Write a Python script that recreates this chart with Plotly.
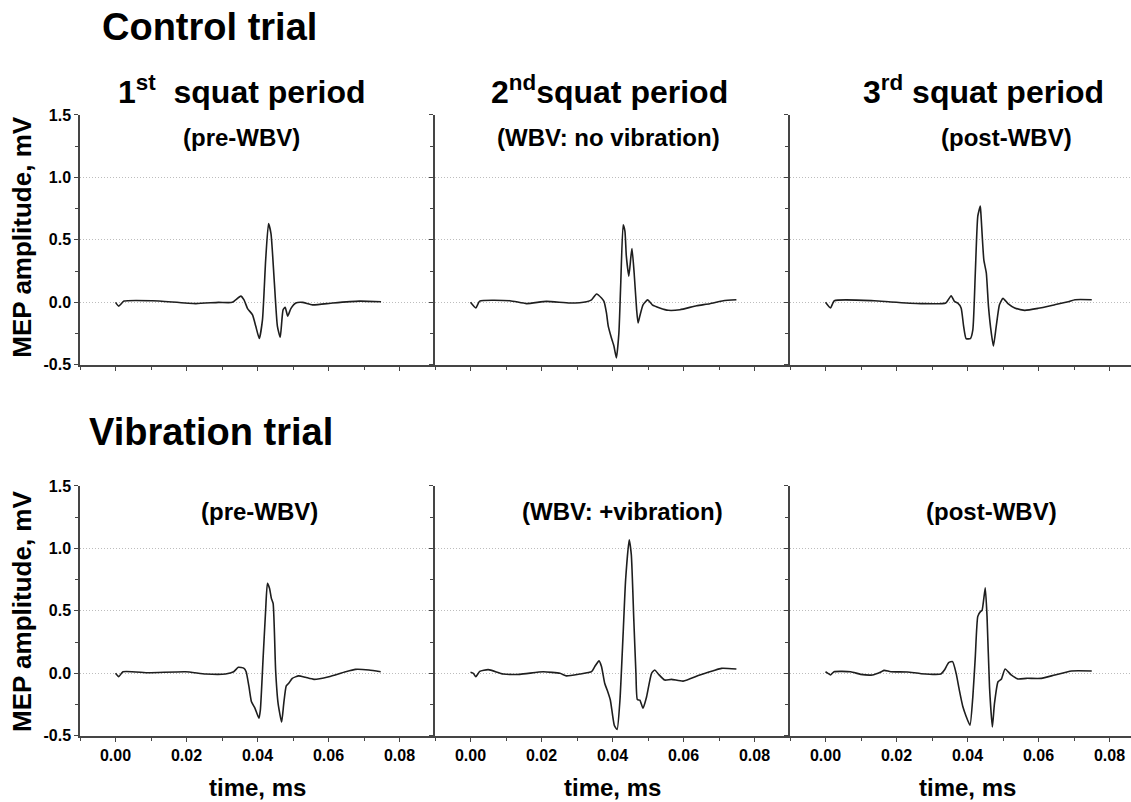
import plotly.graph_objects as go

W, H = 1131, 802

# ---------------- data (time in ms-axis units, amplitude in mV) ----------------
ctrl_pre_t = [0.0, 0.0009, 0.0024, 0.0104, 0.0226, 0.0290, 0.0329, 0.0353, 0.0362, 0.0372,
              0.0386, 0.0395, 0.0405, 0.0414, 0.0423, 0.0431, 0.0438, 0.0447, 0.0456, 0.0464,
              0.0472, 0.0478, 0.0485, 0.0494, 0.0508, 0.0527, 0.0555, 0.0612, 0.0687, 0.0748]
ctrl_pre_v = [0.0, -0.03, 0.01, 0.013, -0.01, 0.0, 0.0, 0.05, 0.02, -0.05,
              -0.10, -0.19, -0.29, -0.14, 0.34, 0.63, 0.55, 0.18, -0.19, -0.28,
              -0.06, -0.04, -0.11, -0.05, -0.005, 0.0, -0.02, -0.005, 0.01, 0.005]

ctrl_wbv_t = [0.0, 0.0015, 0.0026, 0.0111, 0.0158, 0.0214, 0.0280, 0.0327, 0.0341, 0.0355,
              0.0369, 0.0376, 0.0383, 0.0388, 0.0397, 0.0404, 0.0411, 0.0418, 0.0423, 0.0430,
              0.0435, 0.0439, 0.0446, 0.0452, 0.0455, 0.0461, 0.0468, 0.0472, 0.0477, 0.0486,
              0.0499, 0.0512, 0.0533, 0.0557, 0.0590, 0.0637, 0.0674, 0.0712, 0.0749]
ctrl_wbv_v = [0.0, -0.045, 0.01, 0.013, -0.01, 0.008, -0.005, 0.005, 0.02, 0.067,
              0.035, 0.008, -0.085, -0.19, -0.285, -0.35, -0.445, -0.245, 0.13, 0.62,
              0.57, 0.37, 0.21, 0.37, 0.43, 0.235, -0.06, -0.165, -0.11, -0.02,
              0.02, -0.02, -0.045, -0.064, -0.059, -0.027, -0.011, 0.013, 0.021]

ctrl_post_t = [0.0, 0.0014, 0.0025, 0.0137, 0.0184, 0.0269, 0.0339, 0.0354, 0.0363, 0.0372,
               0.0382, 0.0389, 0.0396, 0.0408, 0.0415, 0.0422, 0.0429, 0.0436, 0.0438, 0.0446,
               0.0453, 0.0459, 0.0467, 0.0473, 0.0481, 0.0490, 0.0500, 0.0514, 0.0533, 0.0561,
               0.0599, 0.0646, 0.0684, 0.0703, 0.0750]
ctrl_post_v = [0.0, -0.045, 0.013, 0.013, 0.003, -0.01, -0.005, 0.053, 0.008, -0.005,
               -0.045, -0.19, -0.29, -0.29, -0.22, 0.235, 0.69, 0.77, 0.70, 0.34,
               0.235, -0.03, -0.245, -0.35, -0.19, -0.02, 0.032, -0.01, -0.045, -0.064,
               -0.048, -0.019, 0.005, 0.021, 0.021]

vib_pre_t = [0.0, 0.0009, 0.0021, 0.0094, 0.0197, 0.0254, 0.0310, 0.0333, 0.0346, 0.0362,
             0.0368, 0.0376, 0.0383, 0.0393, 0.0404, 0.0408, 0.0416, 0.0423, 0.0428, 0.0434,
             0.0439, 0.0444, 0.0451, 0.0458, 0.0468, 0.0474, 0.0481, 0.0488, 0.0498, 0.0516,
             0.0535, 0.0559, 0.0601, 0.0648, 0.0676, 0.0714, 0.0747]
vib_pre_v = [0.0, -0.027, 0.013, 0.005, 0.013, -0.005, -0.005, 0.013, 0.048, 0.04,
             0.013, -0.107, -0.228, -0.28, -0.36, -0.295, 0.134, 0.51, 0.72, 0.68,
             0.60, 0.56, 0.027, -0.24, -0.39, -0.24, -0.10, -0.08, -0.04, -0.02,
             -0.032, -0.048, -0.027, 0.013, 0.032, 0.027, 0.013]

vib_wbv_t = [0.0, 0.0008, 0.0015, 0.0026, 0.0050, 0.0092, 0.0139, 0.0205, 0.0252, 0.0270,
             0.0308, 0.0341, 0.0350, 0.0362, 0.0369, 0.0378, 0.0385, 0.0394, 0.0405, 0.0413,
             0.0421, 0.0430, 0.0437, 0.0447, 0.0453, 0.0460, 0.0466, 0.0470, 0.0477, 0.0486,
             0.0496, 0.0510, 0.0519, 0.0529, 0.0547, 0.0566, 0.0599, 0.0646, 0.0684, 0.0707,
             0.0749]
vib_wbv_v = [0.008, 0.0, -0.027, 0.016, 0.03, -0.005, -0.008, 0.013, 0.0, -0.02,
             -0.005, 0.013, 0.054, 0.10, 0.054, -0.08, -0.134, -0.215, -0.415, -0.45,
             -0.215, 0.32, 0.75, 1.07, 0.95, 0.43, 0.0, -0.21, -0.215, -0.28,
             -0.188, 0.0, 0.027, -0.005, -0.054, -0.048, -0.062, -0.013, 0.021, 0.04,
             0.035]

vib_post_t = [0.0, 0.0007, 0.0014, 0.0024, 0.0071, 0.0099, 0.0132, 0.0156, 0.0165, 0.0184,
              0.0231, 0.0269, 0.0325, 0.0335, 0.0347, 0.0358, 0.0368, 0.0377, 0.0387, 0.0396,
              0.0407, 0.0415, 0.0422, 0.0429, 0.0437, 0.0441, 0.0450, 0.0455, 0.0462, 0.0470,
              0.0476, 0.0486, 0.0495, 0.0506, 0.0523, 0.0542, 0.0566, 0.0608, 0.0646, 0.0693,
              0.0750]
vib_post_v = [0.013, 0.0, -0.013, 0.013, 0.013, -0.008, -0.013, 0.011, 0.024, 0.013,
              0.011, -0.003, -0.005, 0.027, 0.086, 0.094, 0.0, -0.134, -0.268, -0.343,
              -0.416, -0.188, 0.134, 0.456, 0.496, 0.504, 0.684, 0.456, -0.107, -0.43,
              -0.241, -0.067, -0.048, 0.035, -0.013, -0.045, -0.040, -0.040, -0.013, 0.019,
              0.019]

row_titles = ["Control trial", "Vibration trial"]
period_titles = ["1<sup>st</sup>  squat period", "2<sup>nd</sup>squat period", "3<sup>rd</sup> squat period"]
sub_titles = [["(pre-WBV)", "(WBV: no vibration)", "(post-WBV)"],
              ["(pre-WBV)", "(WBV: +vibration)", "(post-WBV)"]]
y_title = "MEP amplitude, mV"
x_title = "time, ms"
x_ticks = [0.0, 0.02, 0.04, 0.06, 0.08]
x_ticktext = ["0.00", "0.02", "0.04", "0.06", "0.08"]
y_ticks = [-0.5, 0.0, 0.5, 1.0, 1.5]
y_ticktext = ["-0.5", "0.0", "0.5", "1.0", "1.5"]

series = [[(ctrl_pre_t, ctrl_pre_v), (ctrl_wbv_t, ctrl_wbv_v), (ctrl_post_t, ctrl_post_v)],
          [(vib_pre_t, vib_pre_v), (vib_wbv_t, vib_wbv_v), (vib_post_t, vib_post_v)]]

# ---------------- layout helpers ----------------
FONT = "Liberation Sans, Arial, sans-serif"
AX = "#454545"
LINE = "#1e1e1e"
# the plot area ends up slightly inset vertically; map target pixels to paper fractions
VS, VO = 0.978, 8.5


def fx(px):
    return px / W


def fy(py):
    return 1 - ((py - VO) / VS) / H


col_px = [(80, 435), (435, 790), (790, 1131)]
row_px = [(115, 365), (485.7, 735.7)]
x_unit = 0.1 / 355.0  # data units per pixel

fig = go.Figure()
layout = dict(
    width=W, height=H, margin=dict(l=0, r=0, t=0, b=0),
    paper_bgcolor="white", plot_bgcolor="white", showlegend=False,
    font=dict(family=FONT, color="black"),
)
annotations = []


def bold(size):
    return dict(family=FONT, size=size, color="black", weight="bold")


n = 0
for r in range(2):
    for c in range(3):
        n += 1
        xa = "xaxis" if n == 1 else f"xaxis{n}"
        ya = "yaxis" if n == 1 else f"yaxis{n}"
        xr = "x" if n == 1 else f"x{n}"
        yr = "y" if n == 1 else f"y{n}"
        t, v = series[r][c]
        fig.add_trace(go.Scatter(x=t, y=v, mode="lines", xaxis=xr, yaxis=yr,
                                 line=dict(color=LINE, width=1.6, shape="spline", smoothing=0.5),
                                 hoverinfo="skip"))
        x0, x1 = col_px[c]
        y0, y1 = row_px[r]
        layout[xa] = dict(
            domain=[fx(x0), fx(x1)], anchor=yr,
            range=[-0.01, -0.01 + (x1 - x0) * x_unit],
            showline=True, linecolor=AX, linewidth=1.5,
            showgrid=False, zeroline=False,
            tickmode="array", tickvals=x_ticks, ticktext=x_ticktext,
            ticks="outside", ticklen=4, tickwidth=1.2, tickcolor=AX,
            minor=dict(ticks="outside", ticklen=3, tickwidth=1, tickcolor=AX,
                       tickmode="linear", tick0=0.0, dtick=0.01),
            showticklabels=(r == 1),
            tickfont=bold(16),
            fixedrange=True,
        )
        layout[ya] = dict(
            domain=[fy(y1), fy(y0)], anchor=xr,
            range=[-0.5, 1.503],
            showline=True, linecolor=AX, linewidth=1.5,
            showgrid=True, gridcolor="#bdbdbd", griddash="1px,2px", gridwidth=1,
            zeroline=False,
            tickmode="array", tickvals=y_ticks, ticktext=y_ticktext,
            ticks="outside", ticklen=4, tickwidth=1.2, tickcolor=AX,
            minor=dict(ticks="outside", ticklen=3, tickwidth=1, tickcolor=AX,
                       tickmode="linear", tick0=0.0, dtick=0.25, showgrid=False),
            showticklabels=(c == 0),
            tickfont=bold(16),
            fixedrange=True,
        )
        # panel subtitle
        sub_x = [[242, 608, 1006], [259, 622, 991]][r][c]
        sub_y = [138, 512][r]
        annotations.append(dict(
            text=sub_titles[r][c], x=fx(sub_x), y=fy(sub_y), xref="paper", yref="paper",
            xanchor="center", yanchor="middle", showarrow=False, font=bold(24)))
        if r == 1:
            annotations.append(dict(
                text=x_title, x=fx((x0 + x0 + 355) / 2), y=fy(787), xref="paper", yref="paper",
                xanchor="center", yanchor="middle", showarrow=False, font=bold(24)))
    annotations.append(dict(
        text=y_title, x=fx(22), y=fy([238, 612][r]), xref="paper", yref="paper",
        xanchor="center", yanchor="middle", showarrow=False, textangle=-90, font=bold(26)))

# row titles
annotations.append(dict(text=row_titles[0], x=fx(100), y=fy(27), xref="paper", yref="paper",
                        xanchor="left", yanchor="middle", showarrow=False, font=bold(38)))
annotations.append(dict(text=row_titles[1], x=fx(87), y=fy(432), xref="paper", yref="paper",
                        xanchor="left", yanchor="middle", showarrow=False, font=bold(38)))
# period titles
for c, cx in enumerate([242, 609, 983]):
    annotations.append(dict(text=period_titles[c], x=fx(cx), y=fy(90), xref="paper", yref="paper",
                            xanchor="center", yanchor="middle", showarrow=False, font=bold(32)))

layout["annotations"] = annotations
fig.update_layout(**layout)
fig.write_html(
    "out.html", config={"displayModeBar": False},
    post_script=("document.documentElement.style.margin='0px';"
                 "document.body.style.margin='0px';document.body.style.padding='0px';"
                 "document.body.style.overflow='hidden';"))
